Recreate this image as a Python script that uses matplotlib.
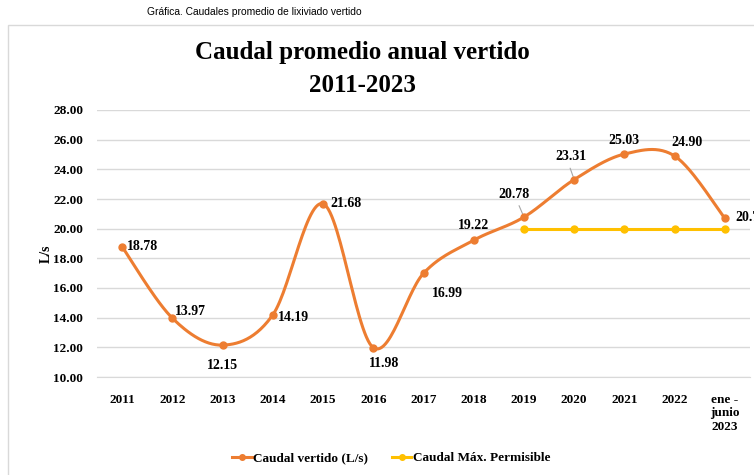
import numpy as np
import matplotlib.pyplot as plt
from matplotlib.patches import Rectangle
from matplotlib.lines import Line2D

categories = ["2011", "2012", "2013", "2014", "2015", "2016", "2017", "2018",
              "2019", "2020", "2021", "2022", "ene -\njunio\n2023"]
caudal = [18.78, 13.97, 12.15, 14.19, 21.68, 11.98, 16.99, 19.22,
          20.78, 23.31, 25.03, 24.90, 20.70]
label_txt = ["18.78", "13.97", "12.15", "14.19", "21.68", "11.98", "16.99", "19.22",
             "20.78", "23.31", "25.03", "24.90", "20.70"]
limite_idx = [8, 9, 10, 11, 12]
limite = [20, 20, 20, 20, 20]

ORANGE = "#ED7D31"
YELLOW = "#FFC000"
SERIF = "Liberation Serif"


def smooth(x, y, n=30):
    # curva suavizada tipo Excel (Bezier con puntos de control Catmull-Rom)
    x = np.asarray(x, float)
    y = np.asarray(y, float)
    xs, ys = [], []
    for i in range(len(x) - 1):
        p0 = np.array([x[max(i - 1, 0)], y[max(i - 1, 0)]])
        p1 = np.array([x[i], y[i]])
        p2 = np.array([x[i + 1], y[i + 1]])
        p3 = np.array([x[min(i + 2, len(x) - 1)], y[min(i + 2, len(x) - 1)]])
        c1 = p1 + (p2 - p0) / 6
        c2 = p2 - (p3 - p1) / 6
        t = np.linspace(0, 1, n)[:, None]
        pts = (1 - t) ** 3 * p1 + 3 * (1 - t) ** 2 * t * c1 + 3 * (1 - t) * t ** 2 * c2 + t ** 3 * p2
        xs.extend(pts[:, 0])
        ys.extend(pts[:, 1])
    return xs, ys


fig = plt.figure(figsize=(7.54, 4.75), dpi=100)
fig.patches.append(Rectangle((8 / 754, -0.01), 1.0, 1 - 25 / 475 + 0.01, transform=fig.transFigure,
                             fill=False, edgecolor="#D9D9D9", linewidth=1))
fig.text(254 / 754, 1 - 12 / 475, "Gráfica. Caudales promedio de lixiviado vertido",
         ha="center", va="center", fontsize=7.4, family="Liberation Sans")
fig.text(362 / 754, 1 - 52 / 475, "Caudal promedio anual vertido", ha="center", va="center",
         fontsize=18, fontweight="bold", family=SERIF)
fig.text(362 / 754, 1 - 86 / 475, "2011-2023", ha="center", va="center",
         fontsize=18, fontweight="bold", family=SERIF)

ax = fig.add_axes([97 / 754, 1 - 377 / 475, 653 / 754, 267 / 475])
x = np.arange(len(categories))

sx, sy = smooth(x, caudal)
ax.plot(sx, sy, color=ORANGE, linewidth=2.2, zorder=3)
ax.plot(x, caudal, "o", color=ORANGE, markersize=5, zorder=4)
ax.plot(limite_idx, limite, color=YELLOW, linewidth=2.2, marker="o", markersize=5, zorder=2)

# posiciones de las etiquetas (desplazamiento en pixeles)
offsets = [(5, 0, "left", "center"), (3, 7, "left", "center"), (0, -20, "center", "center"),
           (5, -3, "left", "center"), (7, 0, "left", "center"), (11, -16, "center", "center"),
           (24, -20, "center", "center"), (0, 15, "center", "center"), (-10, 23, "center", "center"),
           (-3, 23, "center", "center"), (0, 14, "center", "center"), (12, 13, "center", "center"),
           (10, 1, "left", "center")]
for i, (dx, dy, ha, va) in enumerate(offsets):
    ax.annotate(label_txt[i], (x[i], caudal[i]), xytext=(dx, dy), textcoords="offset pixels",
                ha=ha, va=va, fontsize=10, fontweight="bold", family=SERIF,
                annotation_clip=False, zorder=5)
for i, lx in ((8, -6), (9, -5)):
    ax.annotate("", (x[i], caudal[i]), xytext=(lx, 14), textcoords="offset pixels",
                arrowprops=dict(arrowstyle="-", color="#A6A6A6", lw=0.8))

ax.set_xlim(-0.5, len(categories) - 0.5)
ax.set_ylim(10, 28)
ax.set_yticks(np.arange(10, 28.1, 2))
ax.set_yticklabels([f"{v:.2f}" for v in np.arange(10, 28.1, 2)])
ax.set_xticks(x)
ax.set_xticklabels(categories)
for lab in ax.get_xticklabels() + ax.get_yticklabels():
    lab.set_family(SERIF)
    lab.set_fontweight("bold")
    lab.set_fontsize(9.5)
ax.tick_params(length=0, pad=10)
ax.tick_params(axis="x", pad=12)
ax.grid(axis="y", color="#D9D9D9", linewidth=1)
ax.set_axisbelow(True)
for s in ("top", "right", "left"):
    ax.spines[s].set_visible(False)
ax.spines["bottom"].set_color("#D9D9D9")
ax.set_ylabel("L/s", fontsize=10, fontweight="bold", family=SERIF)
ax.yaxis.set_label_coords(-0.068, 0.46)

handles = [Line2D([], [], color=ORANGE, lw=2.2, marker="o", markersize=4),
           Line2D([], [], color=YELLOW, lw=2.2, marker="o", markersize=4)]
fig.legend(handles, ["Caudal vertido (L/s)", "Caudal Máx. Permisible"], loc="center",
           bbox_to_anchor=(391 / 754, 1 - 458 / 475), ncol=2, frameon=False,
           prop={"family": SERIF, "weight": "bold", "size": 9.5}, handlelength=1.5,
           handletextpad=0.1, columnspacing=1.8)

fig.savefig("out.png", dpi=100)
